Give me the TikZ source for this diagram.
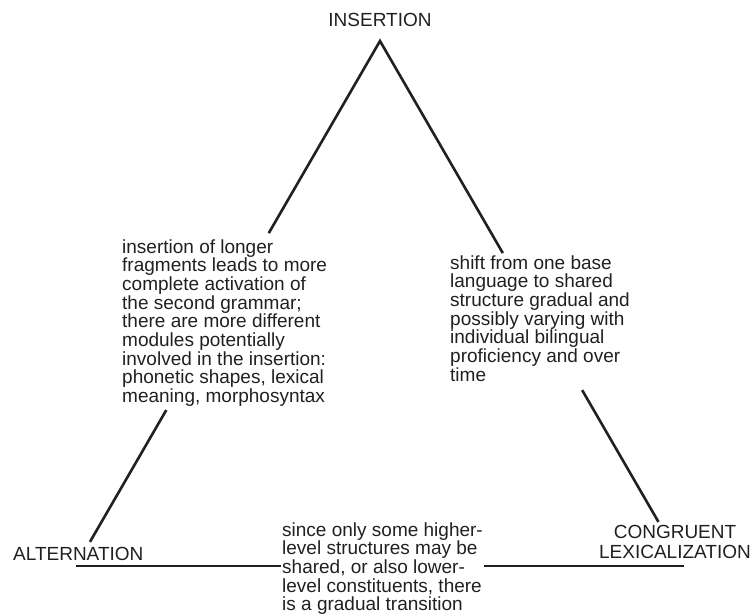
\documentclass[tikz,border=0pt]{standalone}
\usepackage{fontspec}
\setmainfont{Liberation Sans}
\usetikzlibrary{calc}
\definecolor{ink}{RGB}{35,31,32}
\begin{document}
\begin{tikzpicture}[x=1pt,y=-1pt,every node/.style={font=\fontsize{19}{18.7}\selectfont,text=ink,inner sep=0pt},side/.style={line width=2.6pt,draw=ink},blurb/.style={align=left,anchor=north west}]
\useasboundingbox (0,0) rectangle (752,615);
\coordinate (apex) at (380,41);
\coordinate (vl) at (76,566);
\coordinate (vr) at (684,566);
\node[anchor=base] (ins) at (380,27) {INSERTION};
\node[anchor=base west] (alt) at (13,560) {ALTERNATION};
\node[align=center,anchor=north,font=\fontsize{19}{20}\selectfont] (cong) at (675,525.4) {CONGRUENT\\LEXICALIZATION};
\node[blurb] (insnote) at (122,239.1) {insertion of longer\\fragments leads to more\\complete activation of\\the second grammar;\\there are more different\\modules potentially\\involved in the insertion:\\phonetic shapes, lexical\\meaning, morphosyntax};
\node[blurb] (shiftnote) at (450,255.1) {shift from one base\\language to shared\\structure gradual and\\possibly varying with\\individual bilingual\\proficiency and over\\time};
\node[blurb,inner xsep=1pt] (transnote) at (281,522.1) {since only some higher-\\level structures may be\\shared, or also lower-\\level constituents, there\\is a gradual transition};
\draw[side] ($(apex)!.366!(vl)$) -- (apex) -- ($(apex)!.404!(vr)$);
\draw[side] ($(apex)!.703!(vl)$) -- ($(apex)!.954!(vl)$);
\draw[side] ($(apex)!.665!(vr)$) -- ($(apex)!.916!(vr)$);
\draw[side] (vl) -- (vl -| transnote.west);
\draw[side] (transnote.east |- vr) -- (vr);
\end{tikzpicture}
\end{document}
